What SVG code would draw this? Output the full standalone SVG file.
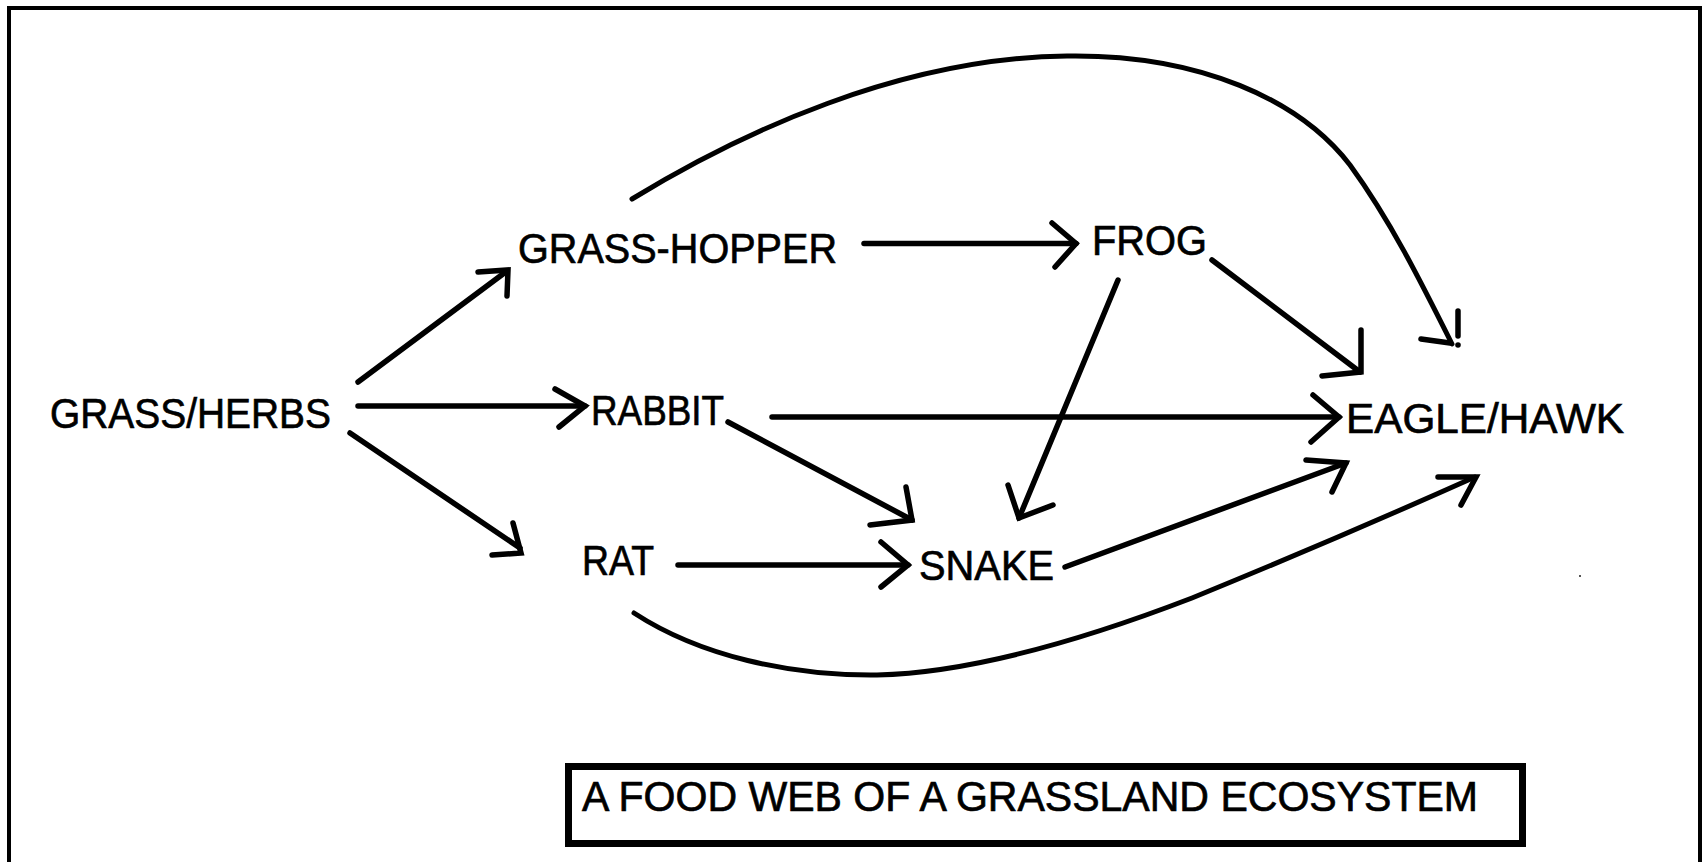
<svg xmlns="http://www.w3.org/2000/svg" width="1705" height="862" viewBox="0 0 1705 862">
  <style>
    .frame { fill: none; stroke: #000; stroke-width: 4; }
    .label { font-family: "Liberation Sans", Arial, sans-serif; font-size: 43px; fill: #000; stroke: #000; stroke-width: 0.7; }
    .edge { fill: none; stroke: #000; stroke-width: 5.5; stroke-linecap: round; stroke-linejoin: round; }
    .curve { fill: none; stroke: #000; stroke-width: 5; stroke-linecap: round; }
    .head { fill: none; stroke: #000; stroke-width: 5.5; stroke-linecap: round; stroke-linejoin: miter; }
  </style>
  <rect width="1705" height="862" fill="#fff"/>

  <!-- page frame: left, top and right sides -->
  <path class="frame" d="M9,862 V8 H1700 V862"/>

  <!-- connectors -->
  <g id="connectors">
    <g id="grass-to-grasshopper">
      <path class="edge" d="M358,382 L507,271"/>
      <path class="head" d="M478,272 L508,270 L507,296"/>
    </g>
    <g id="grass-to-rabbit">
      <path class="edge" d="M358,406 L585,406"/>
      <path class="head" d="M555,389 L585,406 L559,427"/>
    </g>
    <g id="grass-to-rat">
      <path class="edge" d="M350,433 L520,548"/>
      <path class="head" d="M513,523 L521,553 L492,555"/>
    </g>
    <g id="grasshopper-to-frog">
      <path class="edge" d="M864,243.5 L1076,243.5"/>
      <path class="head" d="M1052,223 L1076,243.5 L1055,267"/>
    </g>
    <g id="grasshopper-to-eagle">
      <path class="curve" d="M632,199 C740,133 900,58 1067,56 C1200,54 1300,100 1350,165 C1390,220 1420,280 1452,344"/>
      <path class="head" d="M1421,339 L1450,343"/>
      <path class="head" d="M1458,311 L1458,336"/>
      <circle cx="1458" cy="345" r="2.8" fill="#000"/>
    </g>
    <g id="frog-to-eagle">
      <path class="edge" d="M1212,260 L1360,372"/>
      <path class="head" d="M1361,330 L1361,372 L1322,376"/>
    </g>
    <g id="frog-to-snake">
      <path class="edge" d="M1118,280 L1019,518"/>
      <path class="head" d="M1008,485 L1019,518 L1053,505"/>
    </g>
    <g id="rabbit-to-eagle">
      <path class="edge" d="M772,417 L1339,417"/>
      <path class="head" d="M1313,395 L1339,417 L1311,442"/>
    </g>
    <g id="rabbit-to-snake">
      <path class="edge" d="M728,422 L912,520"/>
      <path class="head" d="M906,487 L912,520 L870,525"/>
    </g>
    <g id="rat-to-snake">
      <path class="edge" d="M678,565 L908,565"/>
      <path class="head" d="M881,542 L908,565 L881,587"/>
    </g>
    <g id="snake-to-eagle">
      <path class="edge" d="M1065,567 L1346,463"/>
      <path class="head" d="M1306,460 L1346,463 L1332,492"/>
    </g>
    <g id="rat-to-eagle">
      <path class="curve" d="M634,613 C700,656 790,676 877,675 C960,673 1070,645 1192,598 C1290,558 1390,515 1475,477"/>
      <path class="head" d="M1438,477 L1476,477 L1461,505"/>
    </g>
  </g>

  <!-- organisms -->
  <g id="node-grass"><text class="label" x="50" y="428" textLength="281" lengthAdjust="spacingAndGlyphs">GRASS/HERBS</text></g>
  <g id="node-grasshopper"><text class="label" x="518" y="263" textLength="319" lengthAdjust="spacingAndGlyphs">GRASS-HOPPER</text></g>
  <g id="node-frog"><text class="label" x="1092" y="255" textLength="115" lengthAdjust="spacingAndGlyphs">FROG</text></g>
  <g id="node-rabbit"><text class="label" x="591" y="425" textLength="133" lengthAdjust="spacingAndGlyphs">RABBIT</text></g>
  <g id="node-rat"><text class="label" x="582" y="575" textLength="72" lengthAdjust="spacingAndGlyphs">RAT</text></g>
  <g id="node-snake"><text class="label" x="919" y="580" textLength="135" lengthAdjust="spacingAndGlyphs">SNAKE</text></g>
  <g id="node-eagle"><text class="label" x="1346" y="433" textLength="278" lengthAdjust="spacingAndGlyphs">EAGLE/HAWK</text></g>

  <!-- caption box -->
  <g id="caption">
    <rect x="568.5" y="766.5" width="954" height="77" fill="#fff" stroke="#000" stroke-width="7"/>
    <text class="label" x="582" y="811" textLength="896" lengthAdjust="spacingAndGlyphs">A FOOD WEB OF A GRASSLAND ECOSYSTEM</text>
  </g>

  <rect x="1579" y="575" width="2" height="2" fill="#555"/>
</svg>
